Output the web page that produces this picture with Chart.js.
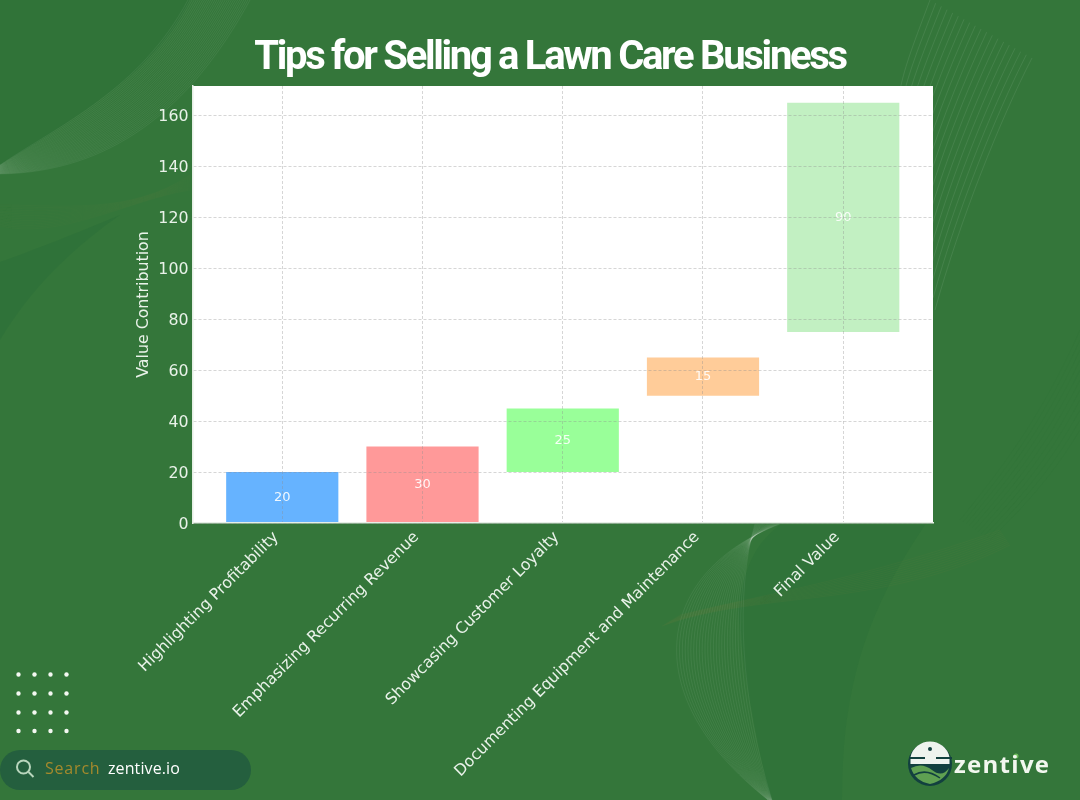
<!DOCTYPE html>
<html>
<head>
<meta charset="utf-8">
<title>Tips for Selling a Lawn Care Business</title>
<script src="https://cdn.jsdelivr.net/npm/chart.js@4"></script>
<style>
  html, body { margin: 0; padding: 0; }
  body { width: 1080px; height: 800px; overflow: hidden; position: relative; background: #34763a; }
  #bg, #myChart, #footer { position: absolute; left: 0; top: 0; }
  h1 {
    position: absolute; left: 0; top: 33.5px; width: 1100px; margin: 0; text-align: center;
    font: 700 40px/44px Roboto, sans-serif; letter-spacing: -2.3px; color: #fff;
  }
  .txt { position: absolute; white-space: nowrap; }
  #search { left: 45px; top: 758px; font: 500 16px/20px "Open Sans", sans-serif; letter-spacing: 0.8px; color: #a58a2c; }
  #site { left: 108px; top: 758px; font: 500 16px/20px "Open Sans", sans-serif; letter-spacing: 0.1px; color: #fff; }
  #brand { left: 954px; top: 747px; font: 700 24px/34px "Open Sans", sans-serif; letter-spacing: 1.3px; color: #f2f7ef; }
</style>
</head>
<body>
<svg id="bg" width="1080" height="800"></svg>
<canvas id="myChart" width="1080" height="800"></canvas>
<svg id="footer" width="1080" height="800">
  <rect x="0" y="750" width="251" height="40" rx="20" fill="#245f3e"></rect>
  <circle cx="23.5" cy="767" r="6.5" fill="none" stroke="#b9d6bd" stroke-width="2"></circle>
  <line x1="28.5" y1="772" x2="33.5" y2="777" stroke="#b9d6bd" stroke-width="2"></line>
  <circle cx="930" cy="764" r="22" fill="#12403f"></circle>
  <path d="M910.5 757 A20 20 0 0 1 949.5 757 L949.5 764 L910.5 764 Z" fill="#eef3ee"></path>
  <rect x="909" y="757" width="16" height="2" fill="#12403f"></rect>
  <rect x="936" y="757" width="16" height="2" fill="#12403f"></rect>
  <circle cx="930" cy="749" r="2" fill="#12403f"></circle>
  <path d="M911 768 Q922 762 932 770 T949 768 Q946 780 930 784 Q915 781 911 768 Z" fill="#5fa052"></path>
  <path d="M914 775 Q926 768 940 778" fill="none" stroke="#12403f" stroke-width="1.5"></path>
  <circle cx="1016" cy="756" r="2.5" fill="#6dbb5c"></circle>
</svg>
<h1>Tips for Selling a Lawn Care Business</h1>
<div class="txt" id="search">Search</div>
<div class="txt" id="site">zentive.io</div>
<div class="txt" id="brand">zentive</div>

<script>
// chart data
const categories = ['Highlighting Profitability', 'Emphasizing Recurring Revenue', 'Showcasing Customer Loyalty', 'Documenting Equipment and Maintenance', 'Final Value'];
const barBottoms = [0, 0, 20, 50, 75];
const barValues = [20, 30, 25, 15, 90];
const barColors = ['#66b3ff', '#ff9999', '#99ff99', '#ffcc99', '#c2f0c2'];
const yTicks = [0, 20, 40, 60, 80, 100, 120, 140, 160];

const tickColor = '#e9f2e9';
const gridColor = 'rgba(140,140,140,0.36)';

// background ribbons, just decoration behind the chart
const bg = document.getElementById('bg');
function addPath(d, attrs) {
	const p = document.createElementNS('http://www.w3.org/2000/svg', 'path');
	p.setAttribute('d', d);
	p.setAttribute('fill', attrs.fill || 'none');
	if (attrs.stroke) {
		p.setAttribute('stroke', attrs.stroke);
		p.setAttribute('stroke-width', attrs.width || 0.6);
	}
	bg.appendChild(p);
}
// lines between two curves given with the same number of points
function ribbon(a, b, count, stroke) {
	for (let i = 0; i <= count; i++) {
		const t = i / count;
		const pt = a.map((v, k) => (v + (b[k] - v) * t).toFixed(1));
		addPath(`M${pt[0]} ${pt[1]} C${pt[2]} ${pt[3]} ${pt[4]} ${pt[5]} ${pt[6]} ${pt[7]}`, { stroke: stroke });
	}
}

addPath('M0 0 L190 0 C165 60 90 110 0 165 Z', { fill: 'rgba(30,100,50,0.14)' });
addPath('M0 340 C30 290 70 250 120 215 C60 240 20 255 0 262 Z', { fill: 'rgba(30,100,55,0.2)' });
addPath('M738 610 C745 690 760 750 770 800 L842 800 C842 700 860 620 925 525 L780 525 C760 540 745 560 738 610 Z', { fill: 'rgba(30,100,55,0.15)' });

ribbon([0, 165, 60, 125, 140, 90, 188, 0], [0, 174, 110, 172, 190, 110, 250, 0], 30, 'rgba(255,255,255,0.11)');
ribbon([0, 226, 60, 240, 130, 200, 190, 190], [0, 205, 60, 205, 130, 215, 190, 175], 14, 'rgba(190,150,70,0.05)');
ribbon([780, 524, 660, 570, 630, 690, 768, 800], [755, 524, 735, 590, 740, 700, 772, 800], 24, 'rgba(255,255,255,0.11)');
ribbon([662, 626, 760, 590, 880, 610, 1010, 545], [680, 615, 760, 595, 860, 580, 1000, 530], 10, 'rgba(200,150,60,0.08)');
ribbon([930, 0, 915, 40, 905, 65, 900, 90], [1032, 58, 1000, 120, 960, 220, 935, 310], 18, 'rgba(255,255,255,0.14)');
ribbon([1080, 330, 1040, 420, 1000, 470, 960, 520], [1080, 430, 1050, 480, 1020, 510, 990, 540], 10, 'rgba(30,100,50,0.15)');

// dot grid bottom left
const dotX = [18.5, 34.5, 50.5, 66.5];
const dotY = [674.5, 693.5, 712.5, 731];
dotY.forEach(y => dotX.forEach(x => {
	addPath(`M${x - 2.2} ${y} a2.2 2.2 0 1 0 4.4 0 a2.2 2.2 0 1 0 -4.4 0`, { fill: '#f4f8f2' });
}));

// white plot area
const plotBackground = {
	id: 'plotBackground',
	beforeDraw(chart) {
		const { ctx, chartArea: a } = chart;
		ctx.save();
		ctx.fillStyle = '#ffffff';
		ctx.fillRect(a.left, a.top, a.width, a.height);
		ctx.restore();
	}
};

// value in the middle of each bar
const barLabels = {
	id: 'barLabels',
	afterDatasetsDraw(chart) {
		const { ctx } = chart;
		const bars = chart.getDatasetMeta(0).data;
		ctx.save();
		ctx.fillStyle = 'rgba(255,255,255,0.9)';
		ctx.font = '13px "DejaVu Sans"';
		ctx.textAlign = 'center';
		ctx.textBaseline = 'middle';
		bars.forEach((bar, i) => {
			ctx.fillText(barValues[i], bar.x, (bar.y + bar.base) / 2);
		});
		ctx.restore();
	}
};

const config = {
	type: 'bar',
	data: {
		datasets: [{
			data: categories.map((c, i) => ({ x: i, y: [barBottoms[i], barBottoms[i] + barValues[i]] })),
			backgroundColor: barColors,
			borderWidth: 0,
			barPercentage: 0.8,
			categoryPercentage: 1
		}]
	},
	options: {
		responsive: false,
		animation: false,
		layout: {
			padding: { left: 128, top: 86, right: 147, bottom: 0 }
		},
		scales: {
			x: {
				type: 'linear',
				offset: false,
				min: -0.64,
				max: 4.64,
				afterBuildTicks: scale => {
					scale.ticks = categories.map((c, i) => ({ value: i }));
				},
				afterFit: scale => {
					scale.height = 277;
				},
				ticks: {
					color: tickColor,
					autoSkip: false,
					minRotation: 45,
					maxRotation: 45,
					padding: 5,
					labelOffset: -6,
					font: { family: '"DejaVu Sans"', size: 15.8 },
					callback: value => categories[value]
				},
				grid: { color: gridColor, z: 1, drawTicks: false, offset: false },
				border: { color: '#e6efe6', width: 1.5, dash: [3, 2], z: 1 }
			},
			y: {
				min: 0,
				max: 171.6,
				afterBuildTicks: scale => {
					scale.ticks = yTicks.map(v => ({ value: v }));
				},
				afterFit: scale => {
					scale.width = 64.5;
				},
				title: {
					display: true,
					text: 'Value Contribution',
					color: tickColor,
					font: { family: '"DejaVu Sans"', size: 15.8 },
					padding: { top: 6, bottom: 0 }
				},
				ticks: {
					color: tickColor,
					padding: 4,
					labelOffset: 1.5,
					font: { family: '"DejaVu Sans"', size: 15.8 }
				},
				grid: { color: gridColor, z: 1, drawTicks: false },
				border: { color: '#e6efe6', width: 1.5, dash: [3, 2], z: 1 }
			}
		},
		plugins: {
			legend: { display: false },
			tooltip: { enabled: false }
		}
	},
	plugins: [plotBackground, barLabels]
};

document.addEventListener('DOMContentLoaded', () => {
	const ctx = document.getElementById('myChart').getContext('2d');
	new Chart(ctx, config);
});
</script>
</body>
</html>
